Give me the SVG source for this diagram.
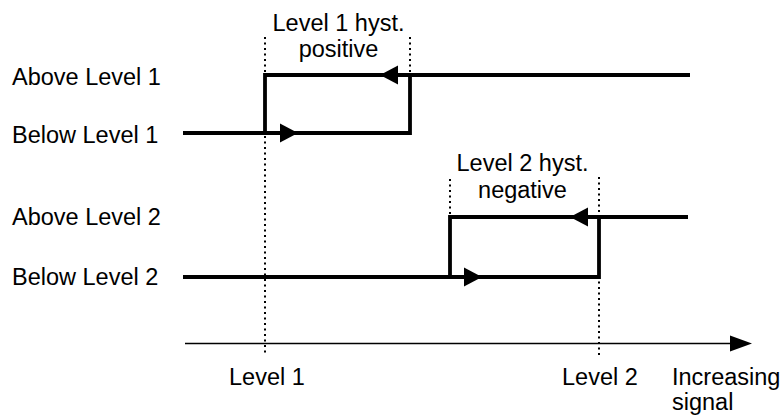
<svg xmlns="http://www.w3.org/2000/svg" width="784" height="419" viewBox="0 0 784 419">
<style>
text{font-family:"Liberation Sans",Arial,sans-serif;font-size:23.5px;fill:#000}
.mid{text-anchor:middle}
.dot{stroke:#000;stroke-width:2;stroke-dasharray:2 3.5;fill:none}
.thick{stroke:#000;stroke-width:3.8;fill:none;stroke-linejoin:miter;stroke-linecap:butt}
.axis{stroke:#000;stroke-width:1.6;fill:none}
.head{fill:#000}
</style>
<rect width="784" height="419" fill="#fff"/>
<g id="guides">
<line class="dot" x1="265" y1="37" x2="265" y2="356"/>
<line class="dot" x1="410" y1="37" x2="410" y2="72"/>
<line class="dot" x1="450" y1="179" x2="450" y2="214"/>
<line class="dot" x1="599" y1="177" x2="599" y2="356"/>
</g>
<g id="connectors">
<path class="thick" d="M183,133 H410 V75"/>
<path class="thick" d="M690,75 H265 V133"/>
<polygon class="head" points="280,123.5 298,133 280,142.5"/>
<polygon class="head" points="398,65.5 380,75 398,84.5"/>
<path class="thick" d="M183,277 H599 V217"/>
<path class="thick" d="M688,217 H450 V277"/>
<polygon class="head" points="464,267.5 482,277 464,286.5"/>
<polygon class="head" points="588,207.5 570,217 588,226.5"/>
<line class="axis" x1="185" y1="343.5" x2="735" y2="343.5"/>
<polygon class="head" points="730,335.5 752,343.5 730,351.5"/>
</g>
<g id="label-above-1"><text x="12" y="85">Above Level 1</text></g>
<g id="label-below-1"><text x="12" y="143">Below Level 1</text></g>
<g id="label-above-2"><text x="12" y="225">Above Level 2</text></g>
<g id="label-below-2"><text x="12" y="285">Below Level 2</text></g>
<g id="label-hyst-1"><text class="mid" x="338.5" y="31">Level 1 hyst.</text><text class="mid" x="338.5" y="57">positive</text></g>
<g id="label-hyst-2"><text class="mid" x="522.5" y="171">Level 2 hyst.</text><text class="mid" x="522.5" y="198">negative</text></g>
<g id="label-level-1"><text x="229" y="385">Level 1</text></g>
<g id="label-level-2"><text x="562" y="385">Level 2</text></g>
<g id="label-signal"><text x="672" y="385">Increasing</text><text x="672" y="410">signal</text></g>
</svg>
